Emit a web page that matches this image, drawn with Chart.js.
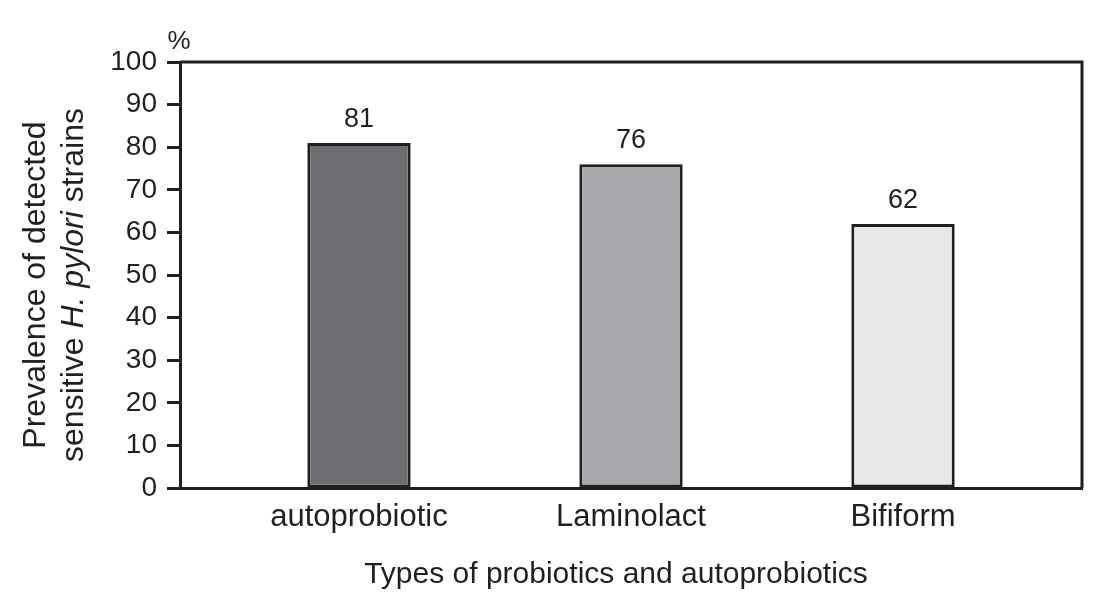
<!DOCTYPE html>
<html lang="en">
<head>
    <meta charset="UTF-8">
    <title>H. pylori sensitivity to probiotics</title>
    <script src="https://cdn.jsdelivr.net/npm/chart.js"></script>
    <style>
        body { margin: 0; background: #fff; }
    </style>
</head>
<body>
    <canvas id="myChart" width="1106" height="601"></canvas>

    <script>
        const categories = ['autoprobiotic', 'Laminolact', 'Bifiform'];
        const prevalence = [81, 76, 62];
        const barColors = ['#6d6e71', '#a7a9ac', '#e6e7e8'];

        const ink = '#231f20';
        const family = '"Liberation Sans", Arial, sans-serif';

        // frame, value labels, % sign and the two titles (y title has italic part)
        const annotations = {
            id: 'annotations',
            afterDraw(chart) {
                const { ctx, chartArea: a } = chart;
                ctx.save();
                ctx.strokeStyle = ink;
                ctx.lineWidth = 3;
                ctx.beginPath();
                ctx.moveTo(a.left, a.top);
                ctx.lineTo(a.right, a.top);
                ctx.lineTo(a.right, a.bottom);
                ctx.stroke();

                ctx.fillStyle = ink;
                ctx.textAlign = 'center';
                ctx.textBaseline = 'alphabetic';
                ctx.font = '27px ' + family;
                chart.getDatasetMeta(0).data.forEach((bar, i) => {
                    ctx.fillText(String(prevalence[i]), bar.x, bar.y - 16);
                });

                ctx.font = '26px ' + family;
                ctx.fillText('%', a.left - 1, 49);

                ctx.font = '30px ' + family;
                ctx.fillText('Types of probiotics and autoprobiotics', 616, 583);

                // rotated y title
                ctx.translate(0, 285);
                ctx.rotate(-Math.PI / 2);
                ctx.textAlign = 'left';
                const normal = '32px ' + family;
                const italic = 'italic 32px ' + family;
                ctx.font = normal;
                const l1 = 'Prevalence of detected';
                ctx.fillText(l1, -ctx.measureText(l1).width / 2, 45);

                const parts = [['sensitive ', normal], ['H. pylori', italic], [' strains', normal]];
                let total = 0;
                parts.forEach(p => { ctx.font = p[1]; total += ctx.measureText(p[0]).width; });
                let u = -total / 2;
                parts.forEach(p => {
                    ctx.font = p[1];
                    ctx.fillText(p[0], u, 83);
                    u += ctx.measureText(p[0]).width;
                });
                ctx.restore();
            }
        };

        const ctx = document.getElementById('myChart').getContext('2d');
        new Chart(ctx, {
            type: 'bar',
            data: {
                datasets: [{
                    data: prevalence.map((v, i) => ({ x: i, y: v })),
                    backgroundColor: barColors,
                    borderColor: ink,
                    borderWidth: 3,
                    borderSkipped: false,
                    barPercentage: 0.38,
                    categoryPercentage: 1
                }]
            },
            options: {
                responsive: false,
                devicePixelRatio: 1,
                animation: false,
                layout: { padding: { top: 62, right: 24, bottom: 0, left: 0 } },
                plugins: {
                    legend: { display: false },
                    tooltip: { enabled: false }
                },
                scales: {
                    x: {
                        type: 'linear',
                        offset: false,
                        min: -0.658,
                        max: 2.658,
                        afterBuildTicks: s => { s.ticks = categories.map((c, i) => ({ value: i })); },
                        afterFit: s => { s.height = 113; },
                        ticks: {
                            callback: v => categories[v],
                            font: { family: family, size: 31 },
                            color: ink,
                            padding: 11,
                            autoSkip: false,
                            maxRotation: 0
                        },
                        grid: { drawOnChartArea: false, drawTicks: false },
                        border: { color: ink, width: 3 }
                    },
                    y: {
                        min: 0,
                        max: 100,
                        afterFit: s => { s.width = 180; },
                        ticks: {
                            stepSize: 10,
                            font: { family: family, size: 28 },
                            color: ink,
                            padding: 10
                        },
                        grid: {
                            drawOnChartArea: false,
                            tickLength: 13,
                            tickWidth: 3,
                            tickColor: ink
                        },
                        border: { color: ink, width: 3 }
                    }
                }
            },
            plugins: [annotations]
        });
    </script>
</body>
</html>
